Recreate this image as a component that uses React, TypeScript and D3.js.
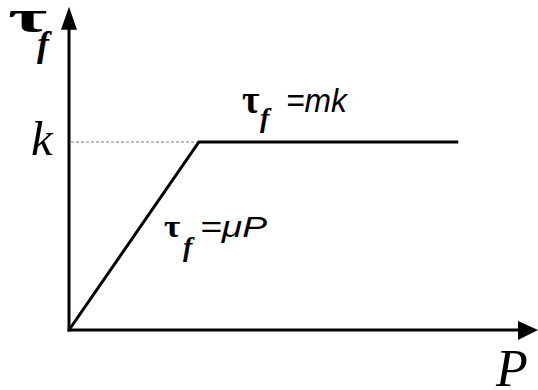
import * as d3 from 'd3';

// piecewise friction law: tau_f = mu*P up to the shear yield k, then tau_f = m*k
const pressure = [0, 2.77, 8.3];
const friction = [0, 1, 1];
const kLevel = 1;
const xMax = 10;
const yMax = 1.72;

const width = 538;
const height = 390;

const serif = '"Liberation Serif", "DejaVu Serif", serif';
const sans = '"Liberation Sans", Arial, sans-serif';

// bold tau, stretched sideways like the symbol font glyph
const Tau = ({ x, y, size, sx }: { x: number; y: number; size: number; sx: number }) => (
  <text
    transform={`translate(${x},${y}) scale(${sx},1)`}
    fontFamily={serif}
    fontWeight="bold"
    fontSize={size}
  >
    τ
  </text>
);

const App = () => {
  const x = d3.scaleLinear().domain([0, xMax]).range([69, 538]);
  const y = d3.scaleLinear().domain([0, kLevel]).range([330, 142]);

  const line = d3
    .line<number>()
    .x(d => x(pressure[d]))
    .y(d => y(friction[d]));

  const x0 = x(0);
  const y0 = y(0);
  const xEnd = x(xMax);
  const yEnd = y(yMax);

  return (
    <svg
      width={width}
      height={height}
      style={{ position: 'absolute', left: 0, top: 0, background: '#fff' }}
    >
      {/* dotted guide at k */}
      <line
        x1={x0 + 2}
        x2={x(pressure[1])}
        y1={y(kLevel)}
        y2={y(kLevel)}
        stroke="#777"
        strokeWidth={1}
        strokeDasharray="3,2"
      />

      {/* axes */}
      <line x1={x0} x2={x0} y1={y0 + 1.5} y2={yEnd + 20} stroke="#000" strokeWidth={3} />
      <line x1={x0 - 1.5} x2={xEnd - 18} y1={y0} y2={y0} stroke="#000" strokeWidth={3} />
      <path
        d={`M${x0},${yEnd} L${x0 - 8},${yEnd + 23} L${x0 + 8},${yEnd + 23} Z`}
        fill="#000"
      />
      <path
        d={`M${xEnd},${y0} L${xEnd - 20},${y0 - 9} L${xEnd - 20},${y0 + 10} Z`}
        fill="#000"
      />

      {/* friction curve */}
      <path
        d={line(d3.range(pressure.length)) ?? ''}
        fill="none"
        stroke="#000"
        strokeWidth={3}
        strokeLinejoin="miter"
      />

      {/* axis labels */}
      <Tau x={8} y={32} size={46} sx={1.85} />
      <text x={37} y={56} fontFamily={serif} fontStyle="italic" fontWeight="bold" fontSize={36}>f</text>
      <text x={31} y={155} fontFamily={serif} fontStyle="italic" fontSize={49}>k</text>
      <text x={496} y={386} fontFamily={serif} fontStyle="italic" fontSize={52}>P</text>

      {/* plateau label */}
      <Tau x={242} y={113} size={40} sx={0.95} />
      <text x={260} y={127} fontFamily={serif} fontStyle="italic" fontWeight="bold" fontSize={28}>f</text>
      <text x={286} y={112} fontFamily={sans} fontStyle="italic" fontSize={34} textLength={61} lengthAdjust="spacingAndGlyphs">=mk</text>

      {/* slope label */}
      <Tau x={164} y={237} size={32} sx={1.1} />
      <text x={183} y={256} fontFamily={serif} fontStyle="italic" fontWeight="bold" fontSize={28}>f</text>
      <text x={200} y={237} fontFamily={sans} fontStyle="italic" fontSize={30} textLength={67} lengthAdjust="spacingAndGlyphs">=μP</text>
    </svg>
  );
};

export default App;
